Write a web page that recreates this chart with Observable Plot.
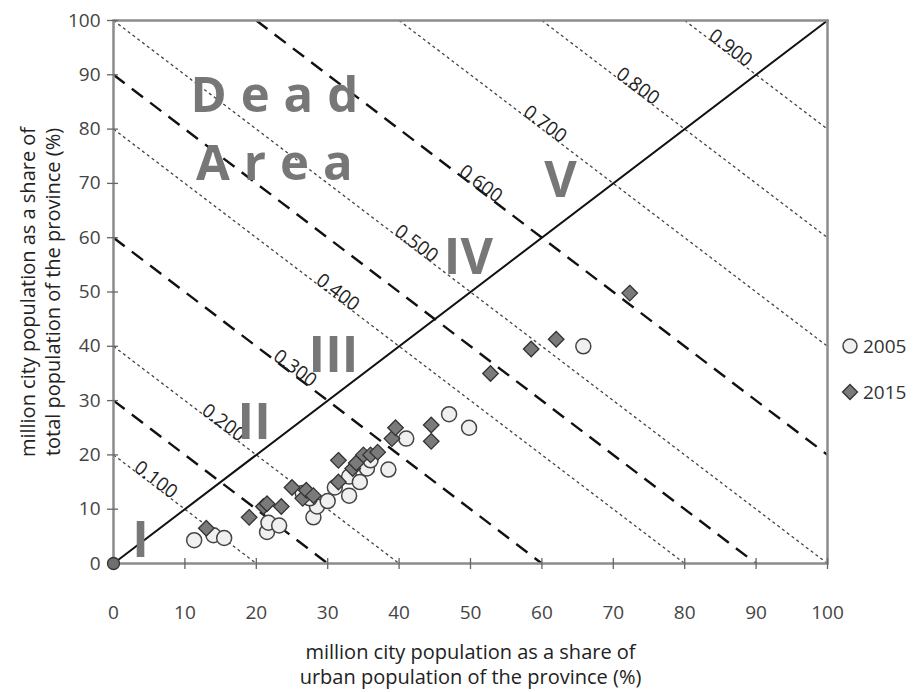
<!DOCTYPE html>
<html><head><meta charset="utf-8">
<script src="https://cdn.jsdelivr.net/npm/d3@7"></script>
<script src="https://cdn.jsdelivr.net/npm/@observablehq/plot@0.6"></script>
<style>
body{margin:0;background:#fff;}
#wrap{position:relative;width:915px;height:692px;overflow:hidden;}
.lg{position:absolute;left:841px;font-family:"Open Sans",sans-serif;font-size:19px;color:#333;display:flex;align-items:center;gap:4px;}
</style></head><body><div id="wrap"></div>
<script>
const xTicks=[0,10,20,30,40,50,60,70,80,90,100];
const yTicks=[0,10,20,30,40,50,60,70,80,90,100];
const seriesNames=["2005","2015"];
const x2005=[11.3,14,15.5,21.5,21.7,23.2,28,28.5,30,27.5,31,33,33,34.5,35.5,38.5,41,47,49.8,65.8,36,26.5];
const y2005=[4.3,5.2,4.7,5.8,7.5,7,8.5,10.5,11.5,12,14,12.5,16,15,17.5,17.3,23,27.5,25,40,19,13];
const x2015=[13,19,21,21.5,23.5,25,26.5,27,28,31.5,31.5,33.5,34,35,36,37,39,39.5,44.5,44.5,52.8,58.5,62,72.3];
const y2015=[6.5,8.5,10.5,11,10.5,14,12,13.5,12.5,19,15,17.5,18.5,20,20,20.5,23,25,25.5,22.5,35,39.5,41.3,49.8];
const originX=[0];
const originY=[0];
const dottedSums=[20,40,80,100,140,160,180];
const dashedSums=[30,60,90,120];
const diagonal=[0,100];
const labelSums=[20,40,60,80,100,120,140,160,180];
const labelX=[5.5,15,25,31,42,51,60,73,86];
const labelText=["0.100","0.200","0.300","0.400","0.500","0.600","0.700","0.800","0.900"];
const romans=["I","II","III","IV","V"];
const romanX=[3.8,19.7,30.8,49.7,62.6];
const romanY=[4.2,25.8,38.3,56.2,70.5];
const deadWords=["Dead","Area"];
const deadX=[23.5,23.5];
const deadY=[86,73.5];
const xTitle="million city population as a share of\nurban population of the province (%)";
const yTitle="million city population as a share of\ntotal population of the province (%)";

const seg = c => ({x1:Math.max(0,c-100), y1:Math.min(100,c), x2:Math.min(100,c), y2:Math.max(0,c-100)});
const dotted = dottedSums.map(seg);
const dashed = dashedSums.map(seg);
const diagPts = diagonal.map(v=>({x:v,y:v}));
const labels = labelSums.map((c,i)=>({x:labelX[i], y:c-labelX[i], t:labelText[i]}));
const romanData = romans.map((t,i)=>({t,x:romanX[i],y:romanY[i]}));
const deadData = deadWords.map((t,i)=>({t,x:deadX[i],y:deadY[i]}));
const pts2005 = x2005.map((x,i)=>({x,y:y2005[i]}));
const pts2015 = x2015.map((x,i)=>({x,y:y2015[i]}));
const ptsOrigin = originX.map((x,i)=>({x,y:originY[i]}));

const W=915,H=692,mL=113,mR=88,mT=20,mB=129;
const innerH=H-mT-mB, innerW=W-mL-mR;
const font="'Open Sans', sans-serif";

const chart = Plot.plot({
  width:W, height:H, marginLeft:mL, marginRight:mR, marginTop:mT, marginBottom:mB,
  style:{fontFamily:font, background:"#fff", overflow:"visible"},
  x:{domain:[0,100], axis:null},
  y:{domain:[0,100], axis:null},
  marks:[
    Plot.link(dotted,{x1:"x1",y1:"y1",x2:"x2",y2:"y2",stroke:"#444",strokeWidth:1.3,strokeDasharray:"3,3"}),
    Plot.link(dashed,{x1:"x1",y1:"y1",x2:"x2",y2:"y2",stroke:"#111",strokeWidth:2.4,strokeDasharray:"14,9"}),
    Plot.line(diagPts,{x:"x",y:"y",stroke:"#111",strokeWidth:2}),
    Plot.text(labels,{x:"x",y:"y",text:"t",rotate:37,lineAnchor:"middle",textAnchor:"middle",fontSize:19,fill:"#222",dx:3,dy:-5}),
    Plot.text(romanData,{x:"x",y:"y",text:"t",fontSize:50,fontWeight:"bold",fill:"#777"}),
    Plot.text(deadData,{x:"x",y:"y",text:"t",fontSize:49,fontWeight:"bold",fill:"#777"}),
    Plot.frame({stroke:"#8c8c8c",strokeWidth:2.5}),
    Plot.tickX(xTicks,{x:d=>d,insetTop:innerH-5,insetBottom:-6,stroke:"#666",strokeWidth:1.3}),
    Plot.tickY(yTicks,{y:d=>d,insetRight:innerW-5,insetLeft:-6,stroke:"#666",strokeWidth:1.3}),
    Plot.text(xTicks,{x:d=>d,text:d=>String(d),frameAnchor:"bottom",textAnchor:"middle",lineAnchor:"middle",dy:49,fontSize:19,fill:"#444"}),
    Plot.text(yTicks,{y:d=>d,text:d=>String(d),frameAnchor:"left",textAnchor:"end",lineAnchor:"middle",dx:-13,fontSize:19,fill:"#444"}),
    Plot.text([xTitle],{frameAnchor:"bottom",textAnchor:"middle",dy:100,text:d=>d,lineAnchor:"middle",lineHeight:1.27,fontSize:20,fill:"#222"}),
    Plot.text([yTitle],{frameAnchor:"left",textAnchor:"middle",dx:-74,text:d=>d,lineAnchor:"middle",lineHeight:1.27,fontSize:20,fill:"#222",rotate:-90}),
    Plot.dot(pts2005,{x:"x",y:"y",r:7.5,fill:"#f0f0f0",stroke:"#444",strokeWidth:1.5}),
    Plot.dot(pts2015,{x:"x",y:"y",r:7,symbol:"diamond2",fill:"#7a7a7a",stroke:"#333",strokeWidth:1.3}),
    Plot.dot(ptsOrigin,{x:"x",y:"y",r:6,fill:"#6e6e6e",stroke:"#333",strokeWidth:1.3})
  ]
});
const wrap=document.getElementById("wrap");
wrap.appendChild(chart);
chart.querySelectorAll("text").forEach(t=>{ if(deadWords.includes(t.textContent)) t.setAttribute("letter-spacing","14"); });

const legendTop=[333,379];
seriesNames.forEach((name,i)=>{
  const d=document.createElement("div");
  d.className="lg"; d.style.top=legendTop[i]+"px";
  const sym = i===0
    ? '<svg width="18" height="18"><circle cx="9" cy="9" r="7" fill="#f0f0f0" stroke="#444" stroke-width="1.5"/></svg>'
    : '<svg width="18" height="18"><path d="M9,1.5L16.5,9L9,16.5L1.5,9Z" fill="#7a7a7a" stroke="#333" stroke-width="1.3"/></svg>';
  d.innerHTML=sym+'<span>'+name+'</span>';
  wrap.appendChild(d);
});
</script></body></html>
